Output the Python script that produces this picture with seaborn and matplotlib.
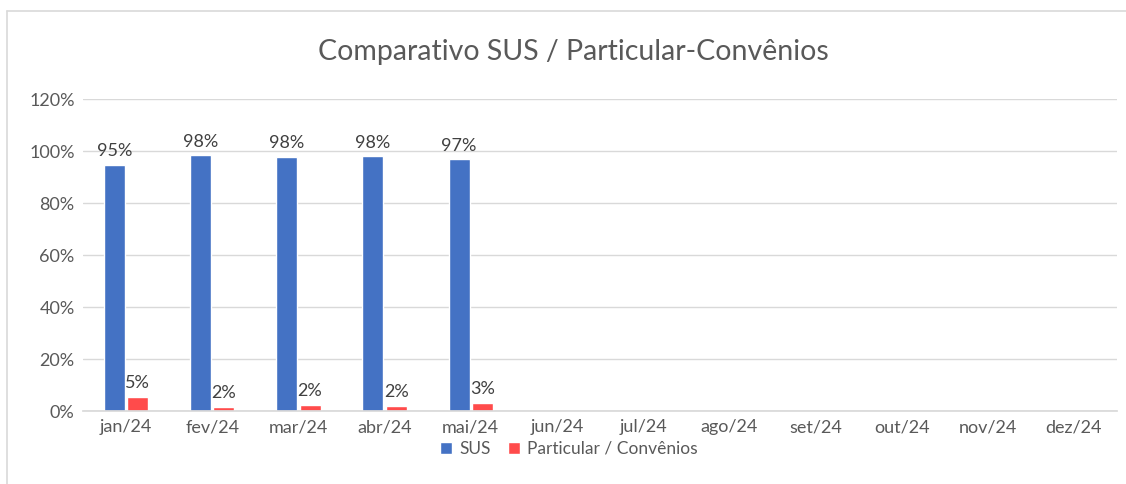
import numpy as np
import pandas as pd
import matplotlib
matplotlib.use("Agg")
import matplotlib.pyplot as plt
import seaborn as sns
from matplotlib.lines import Line2D

months = ['jan/24', 'fev/24', 'mar/24', 'abr/24', 'mai/24', 'jun/24',
          'jul/24', 'ago/24', 'set/24', 'out/24', 'nov/24', 'dez/24']
sus = [94.6, 98.4, 97.7, 98.0, 96.8] + [np.nan] * 7
particular = [5.4, 1.6, 2.3, 2.0, 3.2] + [np.nan] * 7
series_names = ['SUS', 'Particular / Convênios']

df = pd.DataFrame({
    'Mês': months * 2,
    'Série': [series_names[0]] * 12 + [series_names[1]] * 12,
    'Valor': sus + particular,
})

sns.set_theme(style="white")
plt.rcParams['font.family'] = ['Lato', 'DejaVu Sans']
txt = '#595959'

fig = plt.figure(figsize=(11.26, 4.84), dpi=100)
ax = fig.add_axes([83 / 1126, 1 - 411 / 484, (1117 - 83) / 1126, (411 - 99) / 484])

sns.barplot(data=df, x='Mês', y='Valor', hue='Série', order=months,
            hue_order=series_names, palette=['#4472C4', '#FF4B4B'],
            saturation=1, width=0.54, gap=0.1, ax=ax, legend=True)

ax.set_ylim(0, 120)
ax.set_xlim(-0.5, 11.5)
ax.set_yticks(range(0, 121, 20))
ax.set_yticklabels([f'{v}%' for v in range(0, 121, 20)])
ax.yaxis.grid(True, color='#d9d9d9', linewidth=1)
ax.set_axisbelow(True)
for s in ['top', 'right', 'left']:
    ax.spines[s].set_visible(False)
ax.spines['bottom'].set_color('#d9d9d9')
ax.tick_params(axis='both', colors=txt, labelsize=13, length=0, pad=6)
ax.set_xlabel('')
ax.set_ylabel('')

for container in ax.containers:
    labels = ['' if np.isnan(v) else f'{v:.0f}%' for v in container.datavalues]
    ax.bar_label(container, labels=labels, padding=4, fontsize=13, color='#404040')

ax.legend(loc='upper center', bbox_to_anchor=(0.47, -0.045), ncol=2, frameon=False,
          fontsize=12.5, handlelength=0.7, handleheight=0.7, handletextpad=0.4,
          columnspacing=1.0, labelcolor=txt)

fig.text(573 / 1126, 1 - 52 / 484, 'Comparativo SUS / Particular-Convênios',
         ha='center', va='center', fontsize=20.5, color=txt)

# chart frame (top and left edges visible in the reference)
fig.add_artist(Line2D([7 / 1126, 1], [1 - 11 / 484] * 2, transform=fig.transFigure,
                      color='#d9d9d9', linewidth=1.2))
fig.add_artist(Line2D([7 / 1126] * 2, [0, 1 - 11 / 484], transform=fig.transFigure,
                      color='#d9d9d9', linewidth=1.2))

fig.savefig('out.png', dpi=100)
